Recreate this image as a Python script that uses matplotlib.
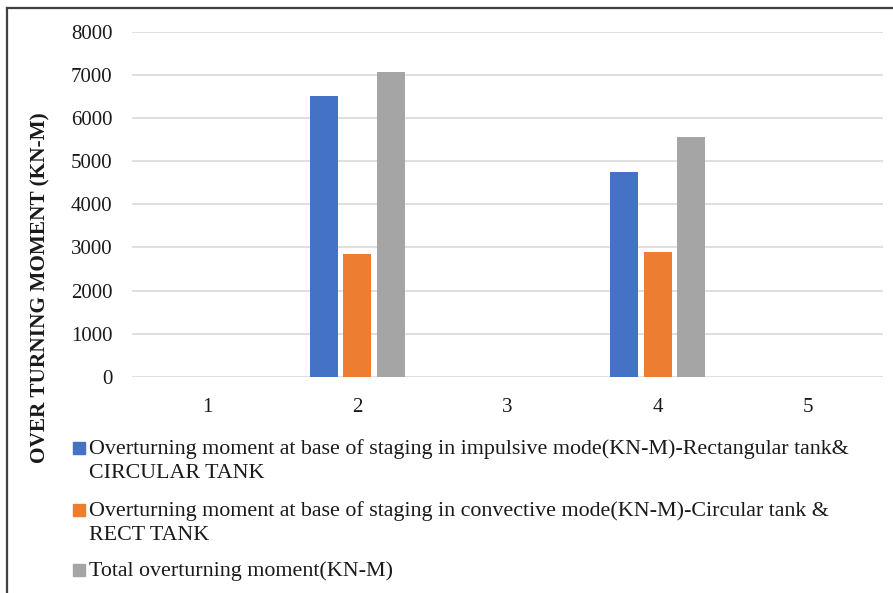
import matplotlib
matplotlib.use("Agg")
import matplotlib.pyplot as plt
import numpy as np
from matplotlib.patches import Rectangle
from matplotlib.lines import Line2D

plt.rcParams['font.family'] = ['Liberation Serif', 'DejaVu Serif']

categories = ["1", "2", "3", "4", "5"]
impulsive = [0, 6510, 0, 4750, 0]
convective = [0, 2850, 0, 2885, 0]
total = [0, 7080, 0, 5555, 0]
series_labels = [
    "Overturning moment at base of staging in impulsive mode(KN-M)-Rectangular tank&\nCIRCULAR TANK",
    "Overturning moment at base of staging in convective mode(KN-M)-Circular tank &\nRECT TANK",
    "Total overturning moment(KN-M)",
]
colors = ["#4472C4", "#ED7D31", "#A5A5A5"]
yticks = [0, 1000, 2000, 3000, 4000, 5000, 6000, 7000, 8000]

W, H = 893, 593
fig = plt.figure(figsize=(W / 100, H / 100), dpi=100)
ax = fig.add_axes([0.1478, 0.3648, 0.8410, 0.5812])

x = np.arange(len(categories))
width = 0.187
step = 0.222
for i, (vals, col) in enumerate(zip([impulsive, convective, total], colors)):
    ax.bar(x + (i - 1) * step, vals, width, color=col, zorder=3)

ax.set_xlim(-0.5, len(categories) - 0.5)
ax.set_ylim(0, 8000)
ax.set_yticks(yticks)
ax.set_yticklabels([str(v) for v in yticks])
ax.set_xticks(x)
ax.set_xticklabels(categories)
ax.tick_params(axis='both', length=0, labelsize=15, colors='#1a1a1a')
ax.tick_params(axis='y', pad=14)
ax.tick_params(axis='x', pad=15)
ax.grid(axis='y', color='#D9D9D9', linewidth=1.2, zorder=0)
for s in ax.spines.values():
    s.set_visible(False)

fig.text(40 / W, 1 - 288 / H, "OVER TURNING MOMENT (KN-M)", rotation=90,
         ha='center', va='center', fontsize=15.3, fontweight='bold', color='#1a1a1a')

# legend below the plot: swatch beside the first line of each label
first_baselines = [454, 516, 576]
line_gap = 24
for lab, col, base in zip(series_labels, colors, first_baselines):
    fig.patches.append(Rectangle((73 / W, 1 - base / H), 12 / W, 12 / H,
                                 transform=fig.transFigure, color=col, figure=fig))
    for k, line in enumerate(lab.split("\n")):
        fig.text(89 / W, 1 - (base + k * line_gap) / H, line, ha='left',
                 va='baseline', fontsize=15.8, color='#1a1a1a')

# outer frame edges
fig.add_artist(Line2D([7 / W, 7 / W], [0, 1 - 8 / H], transform=fig.transFigure,
                      color='#404040', linewidth=1.6))
fig.add_artist(Line2D([7 / W, 1], [1 - 8 / H, 1 - 8 / H], transform=fig.transFigure,
                      color='#404040', linewidth=1.6))

fig.savefig("out.png", dpi=100)
